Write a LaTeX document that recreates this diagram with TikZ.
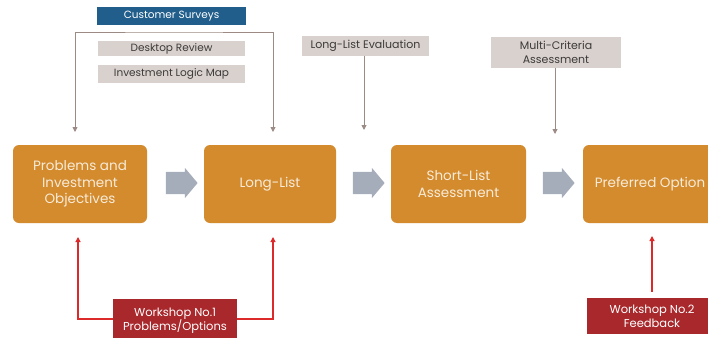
\documentclass[tikz,border=0pt]{standalone}
\usepackage{fontspec}
\setmainfont{Poppins}
\usetikzlibrary{arrows.meta,shapes.arrows}
\definecolor{orangebox}{HTML}{D38B2E}
\definecolor{orangetext}{HTML}{F8EBD8}
\definecolor{bluebox}{HTML}{215E8C}
\definecolor{graybox}{HTML}{D9D1CD}
\definecolor{graytext}{HTML}{3C3A3A}
\definecolor{redbox}{HTML}{A8282C}
\definecolor{redline}{HTML}{DC2A2A}
\definecolor{brownline}{HTML}{9C8A84}
\definecolor{arrowgray}{HTML}{A6ADBA}
\tikzset{
  stagebox/.style={fill=orangebox, rounded corners=6pt, minimum width=134pt, minimum height=78pt,
    text=orangetext, font=\fontsize{13.5}{16.5}\selectfont, align=center, inner sep=2pt},
  infobox/.style={fill=graybox, text=graytext, font=\fontsize{10.5}{12.5}\selectfont, align=center, inner sep=1pt},
  wsbox/.style={fill=redbox, text=white, font=\fontsize{11.5}{14}\selectfont, align=center, inner sep=1pt},
  flowarrow/.style={single arrow, fill=arrowgray, inner sep=11pt, single arrow head extend=4pt,
    single arrow tip angle=100, minimum height=28pt},
  brarrow/.style={draw=brownline, line width=0.9pt, -{Triangle[width=5pt,length=5pt]}},
  redarrow/.style={draw=redline, line width=1.1pt, -{Triangle[width=5pt,length=5pt]}}
}
\begin{document}
\begin{tikzpicture}[x=1pt,y=-1pt]
\useasboundingbox (0,0) rectangle (708,337);
% stage boxes
\node[stagebox] (b1) at (80,184) {Problems and\\Investment\\Objectives};
\node[stagebox, minimum width=132pt] (b2) at (270,184) {Long-List};
\node[stagebox, minimum width=135pt] (b3) at (458.5,184) {Short-List\\Assessment};
\node[stagebox] (b4) at (650,184) {Preferred Option};
% flow arrows
\node[flowarrow] (a1) at (177,183) {};
\node[flowarrow] (a2) at (364,183) {};
\node[flowarrow] (a3) at (554,183) {};
% top information boxes
\node[infobox, fill=bluebox, text=white, minimum width=149pt, minimum height=18pt] (cs) at (171.5,16) {Customer Surveys};
\node[infobox, minimum width=147pt, minimum height=15pt] (dr) at (171.5,48.5) {Desktop Review};
\node[infobox, minimum width=147pt, minimum height=18pt] (ilm) at (171.5,74) {Investment Logic Map};
\node[infobox, minimum width=127pt, minimum height=19pt, font=\fontsize{11}{13}\selectfont] (lle) at (365.5,46) {Long-List Evaluation};
\node[infobox, minimum width=130pt, minimum height=31pt, font=\fontsize{11}{13.5}\selectfont] (mca) at (556,52.5) {Multi-Criteria\\Assessment};
% bracket arrows to first two stages
\coordinate (bar) at (174,32);
\coordinate (bl) at (75,132);
\coordinate (br) at (273,132);
\draw[brarrow, {Triangle[width=5pt,length=5pt]}-{Triangle[width=5pt,length=5pt]}] (bl) |- (bar) -| (br);
\coordinate (lleend) at (364,130);
\draw[brarrow] (lle.south -| lleend) -- (lleend);
\coordinate (mcaend) at (555,134);
\draw[brarrow] (mca.south -| mcaend) -- (mcaend);
% workshops
\node[wsbox, minimum width=124pt, minimum height=40pt, text depth=0pt] (w1) at (175,319) {Workshop No.1\\Problems/Options};
\node[wsbox, minimum width=130pt, minimum height=36pt] (w2) at (652,316) {Workshop No.2\\Feedback};
\coordinate (r1) at (78,237);
\coordinate (r2) at (273,237);
\coordinate (r3) at (652,236);
\draw[redarrow] (w1.west) -| (r1);
\draw[redarrow] (w1.east) -| (r2);
\draw[redarrow] ([yshift=6pt]w2.north) -- (r3);
\end{tikzpicture}
\end{document}
